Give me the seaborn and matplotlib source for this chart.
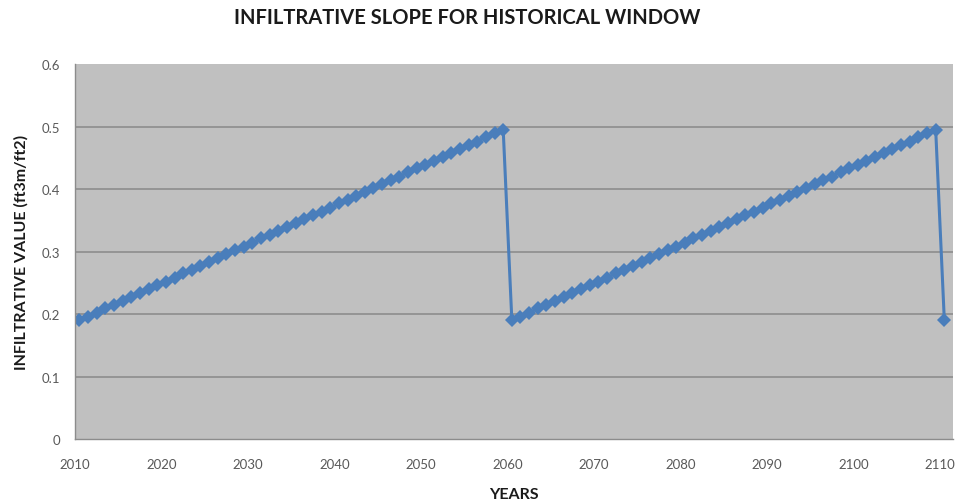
import pandas as pd
import matplotlib.pyplot as plt
import seaborn as sns

# Values: a 50-year ramp that resets, repeated twice
ramp_values = [
    0.190, 0.196, 0.202, 0.209, 0.215, 0.221, 0.227, 0.234, 0.240, 0.246,
    0.252, 0.258, 0.265, 0.271, 0.277, 0.283, 0.290, 0.296, 0.302, 0.308,
    0.314, 0.321, 0.327, 0.333, 0.339, 0.346, 0.352, 0.358, 0.364, 0.370,
    0.377, 0.383, 0.389, 0.395, 0.402, 0.408, 0.414, 0.420, 0.427, 0.433,
    0.439, 0.445, 0.451, 0.458, 0.464, 0.470, 0.476, 0.483, 0.489, 0.495,
]
years = list(range(2010, 2111))
values = ramp_values + ramp_values + [0.190]

x_ticks = [2010, 2020, 2030, 2040, 2050, 2060, 2070, 2080, 2090, 2100, 2110]
y_ticks = [0, 0.1, 0.2, 0.3, 0.4, 0.5, 0.6]
y_tick_labels = ["0", "0.1", "0.2", "0.3", "0.4", "0.5", "0.6"]

df = pd.DataFrame({"year": years, "value": values})

sns.set_style("white")
plt.rcParams['font.family'] = ['Lato', 'DejaVu Sans']

fig = plt.figure(figsize=(9.67, 5.02), dpi=100)
ax = fig.add_axes([0.0776, 0.1235, 0.9079, 0.747])
ax.set_facecolor("#C0C0C0")

sns.lineplot(
    data=df, x="year", y="value", ax=ax, color="#4A7EBB",
    linewidth=2.2, marker="D", markersize=7, markeredgewidth=0
)

# category-style axis: points sit half a slot right of the tick marks
ax.set_xticks([t - 0.5 for t in x_ticks])
ax.set_xticklabels([str(t) for t in x_ticks])
ax.set_xlim(2009.5, 2111.0)
ax.set_yticks(y_ticks)
ax.set_yticklabels(y_tick_labels)
ax.set_ylim(0, 0.6)

for y in y_ticks[1:-1]:
    ax.axhline(y, color="#888888", linewidth=1.1, zorder=1)

for side in ["top", "right"]:
    ax.spines[side].set_visible(False)
for side in ["left", "bottom"]:
    ax.spines[side].set_color("#8C8C8C")
    ax.spines[side].set_linewidth(1.0)

ax.tick_params(axis="both", colors="#8C8C8C", labelcolor="#595959",
               labelsize=9.5, length=5, width=1.0, direction="out")
ax.tick_params(axis="x", pad=9)
ax.tick_params(axis="y", pad=6)

ax.set_xlabel("YEARS", fontsize=11.5, fontweight="bold", color="#1a1a1a", labelpad=12)
ax.set_ylabel("INFILTRATIVE VALUE (ft3m/ft2)", fontsize=11.5, fontweight="bold",
              color="#1a1a1a", labelpad=9)
fig.suptitle("INFILTRATIVE SLOPE FOR HISTORICAL WINDOW", x=0.483, y=0.985,
             fontsize=14.5, fontweight="bold", color="#1a1a1a")

fig.savefig("out.png", dpi=100, facecolor="white")
